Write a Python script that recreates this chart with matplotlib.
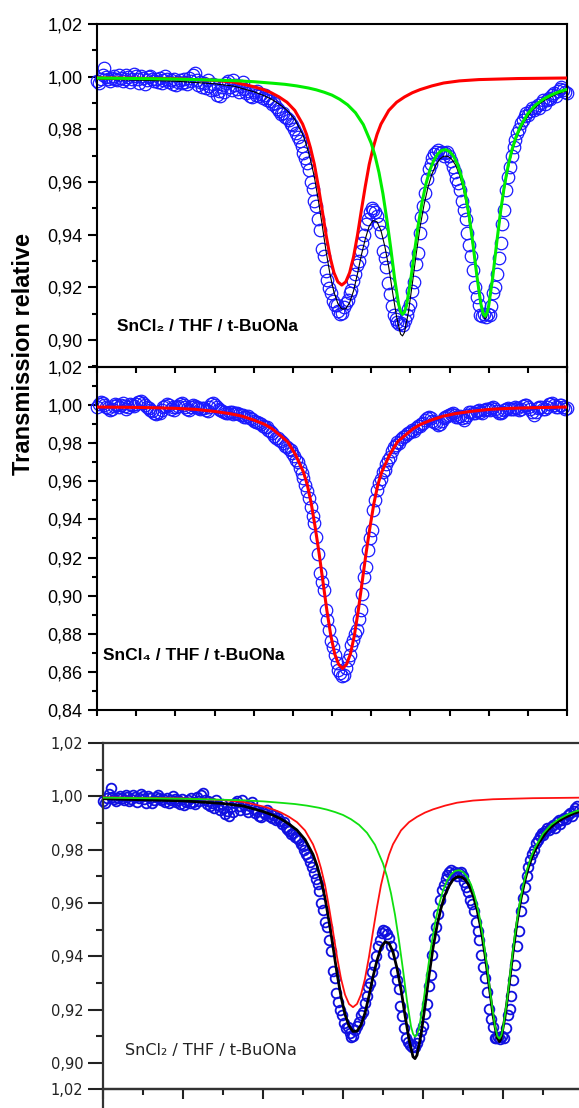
import numpy as np
import matplotlib.pyplot as plt
from matplotlib.ticker import MultipleLocator, FuncFormatter, NullLocator

plt.rcParams['font.family'] = ['Liberation Sans', 'DejaVu Sans']

# velocity channels (axis has no tick labels, arbitrary units)
vel = np.linspace(-6, 6, 256)

# SnCl2 / THF / t-BuONa : measured spectrum
t_sncl2 = [
    0.9982, 0.9975, 0.9992, 1.0008, 1.0032, 0.9998, 0.9990, 0.9982,
    0.9995, 1.0002, 0.9993, 0.9987, 1.0005, 0.9996, 0.9983, 0.9990,
    1.0006, 0.9998, 0.9978, 0.9992, 1.0009, 1.0001, 0.9990, 0.9975,
    1.0003, 0.9994, 0.9974, 0.9986, 0.9998, 1.0004, 0.9993, 0.9985,
    0.9990, 0.9979, 0.9994, 0.9976, 0.9988, 1.0001, 0.9991, 0.9980,
    0.9987, 0.9972, 0.9990, 0.9969, 0.9978, 0.9986, 0.9975, 0.9993,
    0.9980, 0.9972, 0.9996, 0.9984, 1.0006, 1.0013, 0.9988, 0.9970,
    0.9981, 0.9962, 0.9975, 0.9958, 0.9987, 0.9966, 0.9948, 0.9972,
    0.9955, 0.9932, 0.9946, 0.9925, 0.9960, 0.9940, 0.9975, 0.9984,
    0.9962, 0.9950, 0.9986, 0.9968, 0.9952, 0.9943, 0.9965, 0.9978,
    0.9952, 0.9938, 0.9946, 0.9928, 0.9922, 0.9940, 0.9932, 0.9947,
    0.9925, 0.9935, 0.9918, 0.9930, 0.9912, 0.9920, 0.9906, 0.9898,
    0.9902, 0.9885, 0.9876, 0.9868, 0.9860, 0.9864, 0.9848, 0.9842,
    0.9836, 0.9822, 0.9815, 0.9800, 0.9785, 0.9772, 0.9755, 0.9736,
    0.9712, 0.9690, 0.9672, 0.9645, 0.9600, 0.9575, 0.9530, 0.9508,
    0.9460, 0.9418, 0.9345, 0.9318, 0.9262, 0.9228, 0.9198, 0.9180,
    0.9150, 0.9132, 0.9135, 0.9112, 0.9098, 0.9102, 0.9125, 0.9140,
    0.9152, 0.9178, 0.9190, 0.9225, 0.9250, 0.9285, 0.9300, 0.9340,
    0.9367, 0.9400, 0.9440, 0.9460, 0.9488, 0.9500, 0.9495, 0.9485,
    0.9470, 0.9440, 0.9410, 0.9340, 0.9310, 0.9278, 0.9215, 0.9177,
    0.9130, 0.9095, 0.9080, 0.9068, 0.9060, 0.9065, 0.9058, 0.9075,
    0.9095, 0.9120, 0.9139, 0.9185, 0.9220, 0.9290, 0.9329, 0.9405,
    0.9468, 0.9510, 0.9557, 0.9610, 0.9650, 0.9668, 0.9690, 0.9705,
    0.9715, 0.9722, 0.9710, 0.9715, 0.9700, 0.9712, 0.9716, 0.9700,
    0.9680, 0.9658, 0.9640, 0.9612, 0.9595, 0.9570, 0.9530, 0.9494,
    0.9460, 0.9405, 0.9360, 0.9320, 0.9265, 0.9202, 0.9165, 0.9135,
    0.9095, 0.9092, 0.9098, 0.9089, 0.9100, 0.9095, 0.9130, 0.9180,
    0.9202, 0.9250, 0.9310, 0.9367, 0.9440, 0.9494, 0.9570, 0.9620,
    0.9658, 0.9700, 0.9734, 0.9760, 0.9785, 0.9800, 0.9823, 0.9835,
    0.9850, 0.9861, 0.9855, 0.9870, 0.9880, 0.9872, 0.9886, 0.9892,
    0.9880, 0.9902, 0.9910, 0.9898, 0.9911, 0.9920, 0.9915, 0.9930,
    0.9937, 0.9928, 0.9945, 0.9955, 0.9962, 0.9950, 0.9940, 0.9937,
]

# total fit (black)
fit2_x = [-6, -5, -4, -3, -2.5, -2, -1.75, -1.55, -1.35, -1.15,
          -0.95, -0.75, -0.65, -0.55, -0.45, -0.35, -0.25, -0.15, -0.05, 0.05,
          0.15, 0.25, 0.35, 0.45, 0.55, 0.65, 0.75, 0.85, 0.95, 1.05,
          1.15, 1.25, 1.35, 1.45, 1.55, 1.65, 1.75, 1.8, 1.85, 1.95,
          2.05, 2.15, 2.25, 2.35, 2.45, 2.55, 2.65, 2.75, 2.85, 2.95,
          3.05, 3.15, 3.25, 3.35, 3.45, 3.55, 3.65, 3.75, 3.85, 3.91,
          3.95, 4.05, 4.15, 4.25, 4.35, 4.45, 4.55, 4.65, 4.75, 4.9,
          5.1, 5.3, 5.5, 5.75, 6.0]
fit2_y = [0.9991, 0.9987, 0.9983, 0.9973, 0.9964, 0.9943, 0.9929, 0.9915, 0.9896, 0.9873,
          0.9838, 0.9782, 0.9740, 0.9685, 0.9619, 0.9532, 0.9436, 0.9336, 0.9249, 0.9182,
          0.9139, 0.9118, 0.9119, 0.9142, 0.9187, 0.9251, 0.9323, 0.9384, 0.9433, 0.9454,
          0.9449, 0.9416, 0.9355, 0.9276, 0.9179, 0.9088, 0.9023, 0.9016, 0.9029, 0.9105,
          0.9213, 0.9327, 0.9431, 0.9514, 0.9580, 0.9630, 0.9664, 0.9687, 0.9698, 0.9698,
          0.9688, 0.9666, 0.9630, 0.9576, 0.9502, 0.9406, 0.9292, 0.9179, 0.9095, 0.9080,
          0.9090, 0.9172, 0.9289, 0.9414, 0.9526, 0.9616, 0.9686, 0.9741, 0.9782, 0.9827,
          0.9870, 0.9898, 0.9917, 0.9935, 0.9947]

# singlet component (red)
red2_x = [-6, -5, -4, -3, -2.5, -2, -1.75, -1.55, -1.35, -1.15,
          -0.95, -0.75, -0.65, -0.55, -0.45, -0.35, -0.25, -0.15, -0.05, 0.05,
          0.15, 0.25, 0.35, 0.45, 0.55, 0.65, 0.75, 0.85, 0.95, 1.05,
          1.15, 1.25, 1.45, 1.65, 1.85, 2.05, 2.25, 2.55, 2.85, 3.25,
          3.75, 4.75, 6.0]
red2_y = [0.9996, 0.9994, 0.9992, 0.9986, 0.9979, 0.9962, 0.9951, 0.9939, 0.9923, 0.9903,
          0.9872, 0.9820, 0.9781, 0.9730, 0.9667, 0.9584, 0.9493, 0.9398, 0.9316, 0.9256,
          0.9221, 0.9209, 0.9221, 0.9256, 0.9316, 0.9398, 0.9493, 0.9584, 0.9667, 0.9730,
          0.9781, 0.9820, 0.9872, 0.9903, 0.9923, 0.9939, 0.9951, 0.9965, 0.9976, 0.9984,
          0.9989, 0.9993, 0.9995]

# doublet component (green)
green2_x = [-6, -5, -4, -3, -2.5, -2, -1.5, -1.2, -0.9, -0.6,
            -0.4, -0.2, 0, 0.2, 0.4, 0.6, 0.8, 1.0, 1.1, 1.2,
            1.3, 1.4, 1.5, 1.6, 1.7, 1.75, 1.8, 1.85, 1.9, 2.0,
            2.1, 2.2, 2.3, 2.4, 2.5, 2.6, 2.7, 2.8, 2.9, 3.0,
            3.1, 3.2, 3.3, 3.4, 3.5, 3.6, 3.7, 3.8, 3.86, 3.91,
            3.96, 4.0, 4.1, 4.2, 4.3, 4.4, 4.5, 4.6, 4.7, 4.8,
            5.0, 5.2, 5.4, 5.6, 5.8, 6.0]
green2_y = [0.9995, 0.9993, 0.9991, 0.9987, 0.9985, 0.9981, 0.9975, 0.9971, 0.9965, 0.9957,
            0.9950, 0.9941, 0.9930, 0.9914, 0.9893, 0.9863, 0.9818, 0.9748, 0.9699, 0.9636,
            0.9556, 0.9458, 0.9349, 0.9232, 0.9137, 0.9109, 0.9098, 0.9106, 0.9130, 0.9218,
            0.9329, 0.9435, 0.9524, 0.9594, 0.9646, 0.9683, 0.9707, 0.9720, 0.9723, 0.9716,
            0.9699, 0.9669, 0.9623, 0.9559, 0.9473, 0.9364, 0.9243, 0.9138, 0.9100, 0.9091,
            0.9104, 0.9130, 0.9234, 0.9363, 0.9484, 0.9585, 0.9664, 0.9725, 0.9772, 0.9808,
            0.9860, 0.9893, 0.9915, 0.9931, 0.9943, 0.9952]

# SnCl4 / THF / t-BuONa : measured spectrum
t_sncl4 = [
    0.9992, 1.0005, 1.0018, 1.0012, 1.0002, 0.9990, 0.9985, 0.9976,
    0.9982, 0.9995, 1.0004, 0.9998, 0.9988, 1.0000, 1.0010, 0.9995,
    0.9980, 0.9990, 1.0006, 1.0000, 0.9993, 1.0008, 1.0018, 1.0014,
    1.0022, 1.0010, 1.0002, 0.9992, 0.9984, 0.9975, 0.9968, 0.9960,
    0.9954, 0.9962, 0.9958, 0.9972, 0.9988, 0.9996, 1.0006, 0.9998,
    0.9982, 0.9990, 0.9975, 0.9988, 0.9996, 1.0004, 1.0010, 1.0002,
    0.9988, 0.9980, 0.9974, 0.9990, 1.0002, 0.9996, 0.9990, 0.9984,
    0.9978, 0.9986, 0.9984, 0.9976, 0.9970, 0.9990, 1.0005, 1.0012,
    1.0000, 0.9988, 0.9982, 0.9975, 0.9970, 0.9962, 0.9958, 0.9960,
    0.9965, 0.9962, 0.9955, 0.9958, 0.9960, 0.9952, 0.9948, 0.9950,
    0.9935, 0.9938, 0.9942, 0.9930, 0.9925, 0.9918, 0.9912, 0.9913,
    0.9905, 0.9900, 0.9890, 0.9887, 0.9884, 0.9872, 0.9862, 0.9855,
    0.9840, 0.9830, 0.9826, 0.9818, 0.9810, 0.9800, 0.9785, 0.9780,
    0.9770, 0.9765, 0.9748, 0.9735, 0.9712, 0.9700, 0.9668, 0.9642,
    0.9615, 0.9580, 0.9550, 0.9510, 0.9467, 0.9420, 0.9380, 0.9310,
    0.9220, 0.9117, 0.9070, 0.9030, 0.8925, 0.8870, 0.8820, 0.8760,
    0.8732, 0.8690, 0.8645, 0.8610, 0.8592, 0.8580, 0.8585, 0.8620,
    0.8660, 0.8690, 0.8740, 0.8767, 0.8800, 0.8820, 0.8880, 0.8925,
    0.9010, 0.9100, 0.9152, 0.9240, 0.9300, 0.9345, 0.9450, 0.9500,
    0.9555, 0.9590, 0.9610, 0.9650, 0.9660, 0.9690, 0.9710, 0.9730,
    0.9758, 0.9782, 0.9790, 0.9805, 0.9800, 0.9822, 0.9834, 0.9840,
    0.9848, 0.9852, 0.9860, 0.9869, 0.9865, 0.9880, 0.9892, 0.9888,
    0.9900, 0.9904, 0.9920, 0.9932, 0.9939, 0.9930, 0.9918, 0.9910,
    0.9905, 0.9896, 0.9900, 0.9915, 0.9930, 0.9938, 0.9945, 0.9950,
    0.9955, 0.9957, 0.9948, 0.9936, 0.9940, 0.9945, 0.9930, 0.9922,
    0.9935, 0.9950, 0.9962, 0.9966, 0.9958, 0.9960, 0.9970, 0.9975,
    0.9965, 0.9960, 0.9972, 0.9982, 0.9978, 0.9975, 0.9985, 0.9992,
    0.9980, 0.9968, 0.9960, 0.9957, 0.9965, 0.9975, 0.9982, 0.9985,
    0.9980, 0.9978, 0.9980, 0.9990, 0.9985, 0.9972, 0.9980, 0.9995,
    0.9998, 1.0001, 0.9990, 0.9980, 0.9962, 0.9950, 0.9965, 0.9985,
    0.9992, 0.9990, 0.9982, 0.9978, 0.9992, 1.0005, 1.0008, 1.0010,
    1.0002, 0.9992, 0.9988, 1.0003, 0.9998, 0.9988, 0.9980, 0.9983,
]

# single line fit (red)
red4_x = [-6, -5, -4.5, -4, -3.5, -3, -2.6, -2.3, -2.0, -1.73,
          -1.53, -1.33, -1.13, -0.93, -0.73, -0.63, -0.53, -0.43, -0.33, -0.23,
          -0.13, -0.03, 0.07, 0.17, 0.27, 0.37, 0.47, 0.57, 0.67, 0.77,
          0.87, 0.97, 1.07, 1.17, 1.27, 1.47, 1.67, 1.87, 2.07, 2.27,
          2.54, 2.84, 3.14, 3.54, 4.04, 4.54, 5.04, 6.0]
red4_y = [0.9990, 0.9988, 0.9986, 0.9983, 0.9978, 0.9967, 0.9955, 0.9942, 0.9922, 0.9900,
          0.9876, 0.9842, 0.9807, 0.9739, 0.9649, 0.9581, 0.9484, 0.9360, 0.9223, 0.9072,
          0.8921, 0.8790, 0.8694, 0.8639, 0.8618, 0.8639, 0.8694, 0.8790, 0.8921, 0.9072,
          0.9223, 0.9360, 0.9484, 0.9581, 0.9649, 0.9739, 0.9807, 0.9842, 0.9876, 0.9900,
          0.9922, 0.9942, 0.9955, 0.9967, 0.9978, 0.9983, 0.9986, 0.9990]

W, H = 579, 1108


def box(left, top, width, height):
    return [left / W, 1 - (top + height) / H, width / W, height / H]


comma = FuncFormatter(lambda v, p: f"{v:.2f}".replace(".", ","))

fig = plt.figure(figsize=(W / 100, H / 100), dpi=100)

ax1 = fig.add_axes(box(97, 24, 470, 343), facecolor='none')
ax2 = fig.add_axes(box(97, 367, 470, 343), facecolor='none')
ax3 = fig.add_axes(box(103, 743, 480, 346), facecolor='none')
ax4 = fig.add_axes(box(103, 1089, 480, 346), facecolor='none')


def frame(ax, ylim):
    ax.set_xlim(-6, 6)
    ax.set_ylim(*ylim)
    ax.xaxis.set_major_locator(MultipleLocator(1))
    ax.yaxis.set_major_locator(MultipleLocator(0.02))
    ax.yaxis.set_minor_locator(MultipleLocator(0.01))
    ax.yaxis.set_major_formatter(comma)
    ax.tick_params(axis='y', which='major', direction='out', length=6.5,
                   width=1.5, labelsize=13, pad=4)
    ax.tick_params(axis='y', which='minor', direction='out', length=3.5, width=1.5)
    ax.tick_params(axis='x', direction='out', length=4.5, width=1.5, labelbottom=False)
    for s in ax.spines.values():
        s.set_linewidth(1.5)


# top panel: SnCl2
frame(ax1, (0.8898, 1.02))
ax1.plot(vel, t_sncl2, 'o', mfc='none', mec='#1a1aff', ms=9, mew=0.9,
         clip_on=False, zorder=2)
ax1.plot(fit2_x, fit2_y, color='black', lw=0.8, zorder=3)
ax1.plot(red2_x, red2_y, color='#ff0000', lw=2.2, zorder=4)
ax1.plot(green2_x, green2_y, color='#00ee00', lw=2.2, zorder=5)
ax1.text(0.043, 0.117, 'SnCl₂ / THF / t-BuONa', transform=ax1.transAxes,
         fontsize=12.5, fontweight='bold', va='center')

# middle panel: SnCl4
frame(ax2, (0.84, 1.02))
ax2.plot(vel, t_sncl4, 'o', mfc='none', mec='#1a1aff', ms=9, mew=0.9,
         clip_on=False, zorder=2)
ax2.plot(red4_x, red4_y, color='#ff0000', lw=2.2, zorder=4)
ax2.text(0.013, 0.16, 'SnCl₄ / THF / t-BuONa', transform=ax2.transAxes,
         fontsize=12.5, fontweight='bold', va='center')

fig.text(24 / W, 1 - 354 / H, 'Transmission relative', rotation=90,
         fontsize=17, fontweight='bold', ha='center', va='center')

# bottom panel: older copy of the SnCl2 spectrum
for ax in (ax3, ax4):
    ax.set_xlim(-6, 6)
    ax.set_ylim(0.8902, 1.02)
    ax.yaxis.set_major_locator(MultipleLocator(0.02))
    ax.yaxis.set_minor_locator(MultipleLocator(0.01))
    ax.yaxis.set_major_formatter(comma)
    ax.tick_params(axis='y', which='major', direction='out', length=11,
                   width=1.5, labelsize=10.5, pad=3, colors='#222222')
    ax.tick_params(axis='y', which='minor', direction='out', length=5,
                   width=1.5, colors='#222222')
    for s in ax.spines.values():
        s.set_linewidth(1.6)
        s.set_color('#333333')
    ax.spines['right'].set_visible(False)

ax3.xaxis.set_major_locator(MultipleLocator(2))
ax3.xaxis.set_minor_locator(MultipleLocator(1))
ax3.tick_params(axis='x', which='major', direction='out', length=7,
                width=1.5, labelbottom=False, colors='#222222')
ax3.tick_params(axis='x', which='minor', direction='out', length=4,
                width=1.5, colors='#222222')
ax3.plot(vel, t_sncl2, 'o', mfc='none', mec='#1010e0', ms=7, mew=1.3,
         clip_on=False, zorder=2)
ax3.plot(fit2_x, fit2_y, color='black', lw=2, zorder=3)
ax3.plot(red2_x, red2_y, color='#ff1010', lw=1.3, zorder=4)
ax3.plot(green2_x, green2_y, color='#10e010', lw=1.3, zorder=5)
ax3.text(0.046, 0.11, 'SnCl₂ / THF / t-BuONa', transform=ax3.transAxes,
         fontsize=11.5, family='DejaVu Sans', color='#222222', va='center')

# start of the next (cut) panel: only its top label shows
ax4.spines['bottom'].set_visible(False)
ax4.set_xticks([])
ax4.set_yticks([1.02])
ax4.yaxis.set_minor_locator(NullLocator())

for ax in (ax3, ax4):
    for lab in ax.get_yticklabels():
        lab.set_family('DejaVu Sans')

fig.savefig('out.png', dpi=100)
